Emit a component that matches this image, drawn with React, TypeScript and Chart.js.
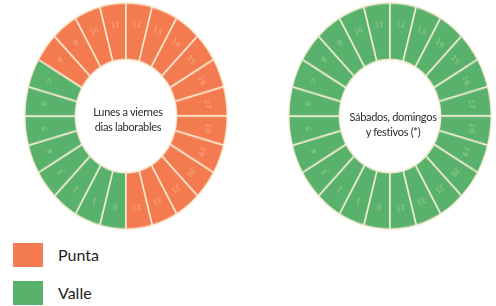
import React, { useEffect, useRef } from "react";
import { Chart, registerables } from "chart.js";

Chart.register(...registerables);

const hours: string[] = Array.from({ length: 24 }, (_, i) => String(i));
const segmentValues: number[] = [1,1,1,1,1,1,1,1,1,1,1,1,1,1,1,1,1,1,1,1,1,1,1,1];
// period per hour: V = Valle, P = Punta
const weekdayPeriods: string[] = ["V","V","V","V","V","V","V","V","P","P","P","P","P","P","P","P","P","P","P","P","P","P","P","P"];
const weekendPeriods: string[] = ["V","V","V","V","V","V","V","V","V","V","V","V","V","V","V","V","V","V","V","V","V","V","V","V"];
const legendLabels: string[] = ["Punta", "Valle"];
const centerLeft: string[] = ["Lunes a viernes", "dias laborables"];
const centerRight: string[] = ["Sábados, domingos", "y festivos (*)"];

const PUNTA = "#F47B4F";
const VALLE = "#58B26B";
const colorOf = (p: string) => (p === "P" ? PUNTA : VALLE);

const hourLabelPlugin = {
  id: "hourLabels",
  afterDatasetsDraw(chart: any) {
    const ctx = chart.ctx;
    const meta = chart.getDatasetMeta(0);
    ctx.save();
    ctx.font = "7px 'DejaVu Sans'";
    ctx.textAlign = "center";
    ctx.textBaseline = "middle";
    ctx.fillStyle = "rgba(255,240,220,0.4)";
    meta.data.forEach((arc: any, i: number) => {
      const { x, y, startAngle, endAngle, innerRadius, outerRadius } = arc.getProps(
        ["x", "y", "startAngle", "endAngle", "innerRadius", "outerRadius"],
        true
      );
      const mid = (startAngle + endAngle) / 2;
      const r = (innerRadius + outerRadius) / 2 + 6;
      ctx.save();
      ctx.translate(x + Math.cos(mid) * r, y + Math.sin(mid) * r);
      ctx.rotate(mid + Math.PI / 2);
      ctx.fillText(chart.data.labels[i], 0, 0);
      ctx.restore();
    });
    ctx.restore();
  },
};

function Donut({ periods, left, top }: { periods: string[]; left: number; top: number }) {
  const ref = useRef<HTMLCanvasElement | null>(null);
  useEffect(() => {
    const canvas = ref.current!;
    const chart = new Chart(canvas, {
      type: "doughnut",
      data: {
        labels: hours,
        datasets: [
          {
            data: segmentValues,
            backgroundColor: periods.map(colorOf),
            borderColor: "rgba(250,238,215,0.9)",
            borderWidth: 1.6,
          },
        ],
      },
      options: {
        responsive: false,
        animation: false,
        rotation: 180,
        cutout: "50%",
        layout: { padding: 0 },
        plugins: { legend: { display: false }, tooltip: { enabled: false } },
      },
      plugins: [hourLabelPlugin],
    });
    canvas.style.width = "204px";
    canvas.style.height = "228px";
    return () => chart.destroy();
  }, [periods]);
  return (
    <canvas
      ref={ref}
      width={204}
      height={204}
      style={{ position: "absolute", left, top, width: 204, height: 228 }}
    />
  );
}

const centerStyle: React.CSSProperties = {
  position: "absolute",
  width: 120,
  textAlign: "center",
  fontFamily: "Lato, 'Open Sans', sans-serif",
  fontSize: 11,
  lineHeight: "15px",
  color: "#2b2b2b",
  letterSpacing: "-0.3px",
};

export default function App() {
  return (
    <div
      style={{
        position: "fixed",
        left: 0,
        top: 0,
        width: 496,
        height: 306,
        background: "#ffffff",
        overflow: "hidden",
      }}
    >
      <Donut periods={weekdayPeriods} left={24} top={2} />
      <Donut periods={weekendPeriods} left={288} top={2} />
      <div style={{ ...centerStyle, left: 68, top: 104 }}>
        {centerLeft[0]}
        <br />
        {centerLeft[1]}
      </div>
      <div style={{ ...centerStyle, left: 333, top: 109 }}>
        {centerRight[0]}
        <br />
        {centerRight[1]}
      </div>
      {legendLabels.map((lab, i) => (
        <div key={lab} style={{ position: "absolute", left: 13, top: 243 + i * 38, height: 25 }}>
          <div
            style={{
              position: "absolute",
              left: 0,
              top: 0,
              width: 30,
              height: 24,
              background: i === 0 ? PUNTA : VALLE,
            }}
          />
          <div
            style={{
              position: "absolute",
              left: 45,
              top: 0,
              lineHeight: "24px",
              fontFamily: "Lato, 'Open Sans', sans-serif",
              fontSize: 16,
              color: "#222",
              whiteSpace: "nowrap",
            }}
          >
            {lab}
          </div>
        </div>
      ))}
    </div>
  );
}
